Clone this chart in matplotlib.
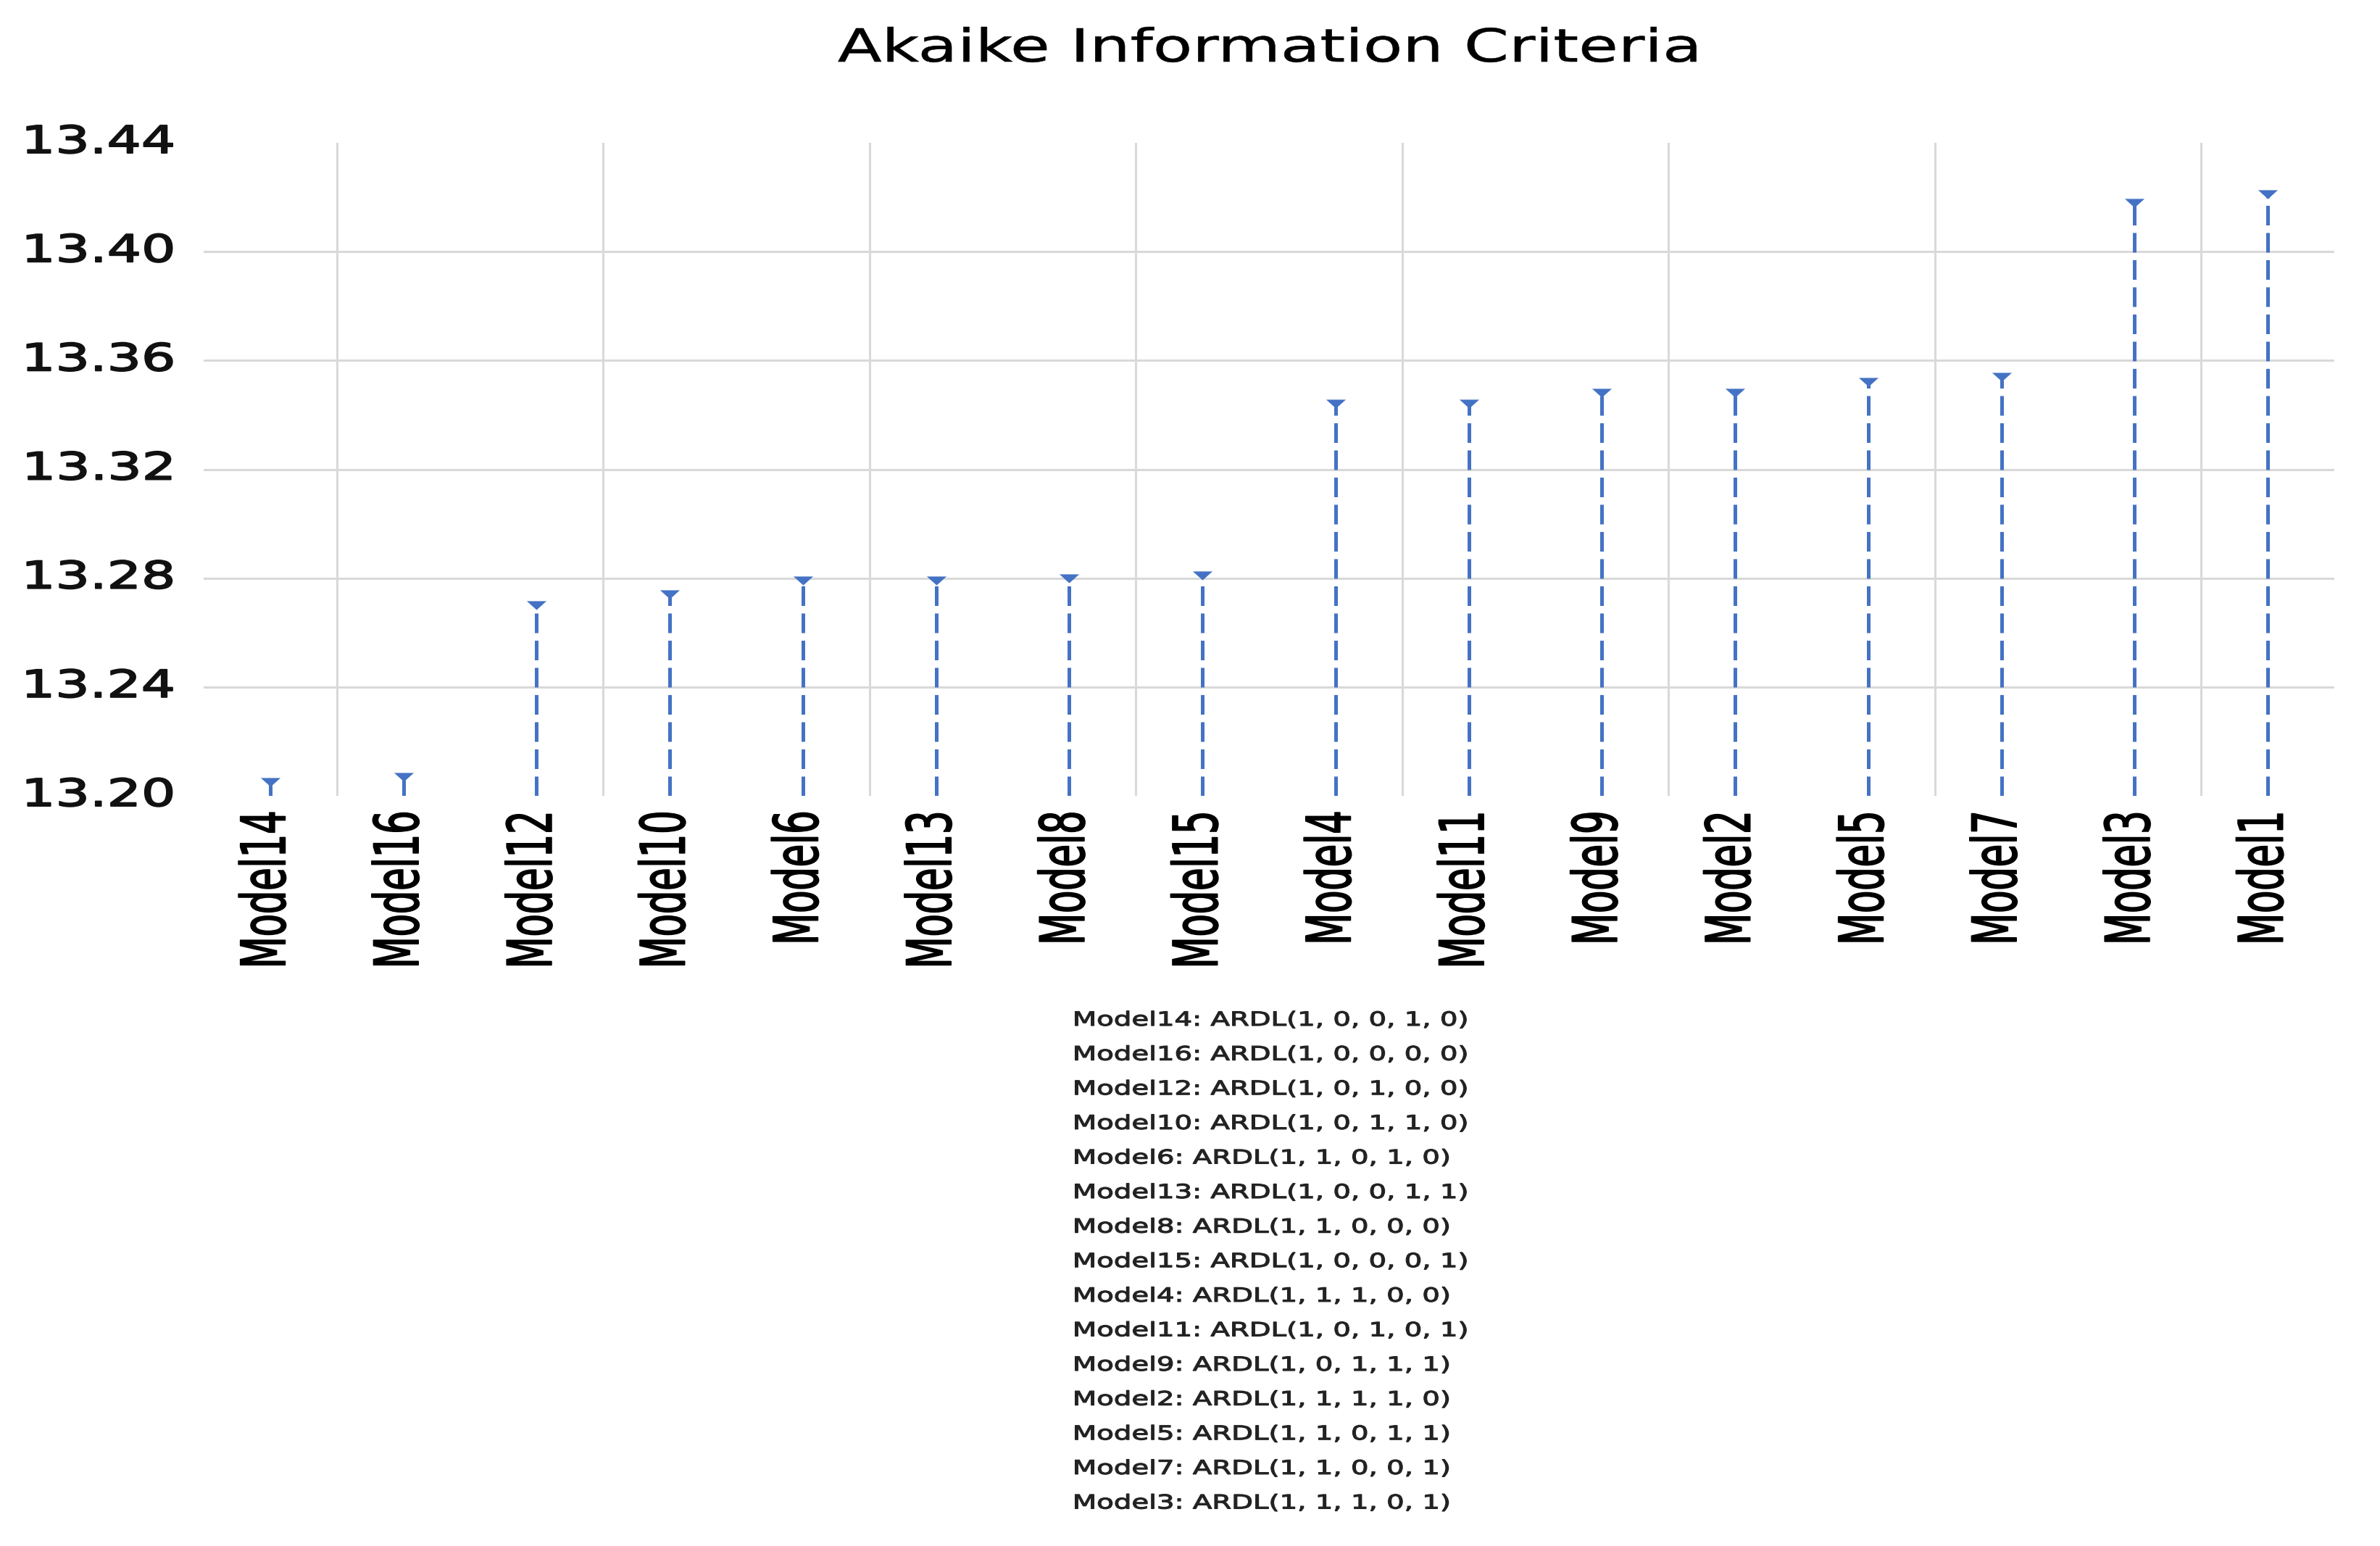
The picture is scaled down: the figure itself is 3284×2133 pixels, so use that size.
import matplotlib
matplotlib.use("Agg")
import matplotlib.pyplot as plt
import numpy as np
from matplotlib.patheffects import AbstractPathEffect
from matplotlib.transforms import Affine2D, ScaledTranslation, blended_transform_factory

# ---------------- data ----------------
models = ["Model14", "Model16", "Model12", "Model10", "Model6", "Model13", "Model8", "Model15",
          "Model4", "Model11", "Model9", "Model2", "Model5", "Model7", "Model3", "Model1"]
aic = [13.205, 13.207, 13.270, 13.274, 13.279, 13.279, 13.280, 13.281,
       13.344, 13.344, 13.348, 13.348, 13.352, 13.354, 13.418, 13.421]
legend_models = ["Model14", "Model16", "Model12", "Model10", "Model6", "Model13", "Model8", "Model15",
                 "Model4", "Model11", "Model9", "Model2", "Model5", "Model7", "Model3"]
legend_specs = ["ARDL(1, 0, 0, 1, 0)", "ARDL(1, 0, 0, 0, 0)", "ARDL(1, 0, 1, 0, 0)",
                "ARDL(1, 0, 1, 1, 0)", "ARDL(1, 1, 0, 1, 0)", "ARDL(1, 0, 0, 1, 1)",
                "ARDL(1, 1, 0, 0, 0)", "ARDL(1, 0, 0, 0, 1)", "ARDL(1, 1, 1, 0, 0)",
                "ARDL(1, 0, 1, 0, 1)", "ARDL(1, 0, 1, 1, 1)", "ARDL(1, 1, 1, 1, 0)",
                "ARDL(1, 1, 0, 1, 1)", "ARDL(1, 1, 0, 0, 1)", "ARDL(1, 1, 1, 0, 1)"]
yticks = [13.20, 13.24, 13.28, 13.32, 13.36, 13.40, 13.44]
ytick_labels = ["13.20", "13.24", "13.28", "13.32", "13.36", "13.40", "13.44"]
title = "Akaike Information Criteria"

# ---------------- style helpers ----------------
plt.rcParams["font.family"] = ["DejaVu Sans"]
plt.rcParams["lines.scale_dashes"] = False

BLUE = "#4472C4"
GRID = "#D9D9D9"
DPI = 100
W, H = 3284, 2133


class Stretch(AbstractPathEffect):
    """Draw text glyphs scaled (in the text's own frame) about a point of their
    extents, optionally emboldened with a thin outline of the same colour."""

    def __init__(self, sx=1.0, sy=1.0, fx=0.5, fy=0.5, stroke=0.0):
        super().__init__()
        self.sx, self.sy, self.fx, self.fy, self.stroke = sx, sy, fx, fy, stroke

    def draw_path(self, renderer, gc, tpath, affine, rgbFace=None):
        ext = tpath.get_extents()
        cx = ext.x0 + self.fx * (ext.x1 - ext.x0)
        cy = ext.y0 + self.fy * (ext.y1 - ext.y0)
        pre = Affine2D().translate(-cx, -cy).scale(self.sx, self.sy).translate(cx, cy)
        tr = pre + affine
        renderer.draw_path(gc, tpath, tr, rgbFace)
        if self.stroke > 0 and rgbFace is not None:
            gc0 = renderer.new_gc()
            gc0.copy_properties(gc)
            gc0.set_linewidth(self.stroke)
            gc0.set_foreground(rgbFace)
            gc0.set_joinstyle("round")
            renderer.draw_path(gc0, tpath, tr, None)
            gc0.restore()


def px(v):
    return v / DPI


fig = plt.figure(figsize=(W / DPI, H / DPI), dpi=DPI)
fig.patch.set_facecolor("white")

left_px, right_px, top_px, bottom_px = 281, 3221, 197, 1098
ax = fig.add_axes([left_px / W, 1 - bottom_px / H, (right_px - left_px) / W, (bottom_px - top_px) / H])
ax.set_facecolor("white")

x = np.arange(len(models))
ax.set_xlim(-0.5, len(models) - 0.5)
ax.set_ylim(yticks[0], yticks[-1])
for s in ax.spines.values():
    s.set_visible(False)
ax.set_xticks([])
ax.set_yticks([])

# gridlines
for yv in yticks[1:-1]:
    ax.axhline(yv, color=GRID, lw=2.2, zorder=0)
for xv in np.arange(0.5, len(models) - 1, 2):
    ax.axvline(xv, color=GRID, lw=2.2, zorder=0)

# dashed drop lines
ax.vlines(x, yticks[0], aic, colors=BLUE, linestyles=[(0, (19.5, 7.5))], lw=3.6, zorder=2)

# flat down-pointing triangle markers
tri = [(-1.0, 0.45), (1.0, 0.45), (0.0, -0.45), (-1.0, 0.45)]
ax.plot(x, aic, ls="none", marker=tri, ms=19.5, color=BLUE, mew=0, zorder=3)

# y tick labels
ytrans = ax.get_yaxis_transform() + ScaledTranslation(px(-40), 0, fig.dpi_scale_trans)
for yv, lab in zip(yticks, ytick_labels):
    ax.text(0, yv, lab, transform=ytrans, ha="right", va="center", fontsize=37.5,
            color="#111111", path_effects=[Stretch(1.43, 1.0, 1.0, 0.5, stroke=1.4)], clip_on=False)

# x category labels (rotated)
xtrans = blended_transform_factory(ax.transData, ax.transAxes) + \
    ScaledTranslation(px(-6), px(-20), fig.dpi_scale_trans)
for xi, name in zip(x, models):
    ax.text(xi, 0, name, transform=xtrans, rotation=90, ha="center", va="top", fontsize=36.7,
            color="black", path_effects=[Stretch(1.0, 1.66, 0.5, 0.5, stroke=1.2)], clip_on=False)

# title
fig.text(((left_px + right_px) / 2) / W, 1 - 85 / H, title, ha="center", va="baseline",
         fontsize=45.4, color="black", path_effects=[Stretch(1.41, 1.0, 0.5, 0.5, stroke=0.4)])

# model specification list
first_baseline = 1415
line_step = 47.6
for i, (m, spec) in enumerate(zip(legend_models, legend_specs)):
    fig.text(1481 / W, 1 - (first_baseline + i * line_step) / H, f"{m}: {spec}",
             ha="left", va="baseline", fontsize=19.2, color="#222222",
             path_effects=[Stretch(1.45, 1.0, 0.0, 0.5, stroke=0.9)])

fig.savefig("out.png", dpi=DPI, facecolor="white")
